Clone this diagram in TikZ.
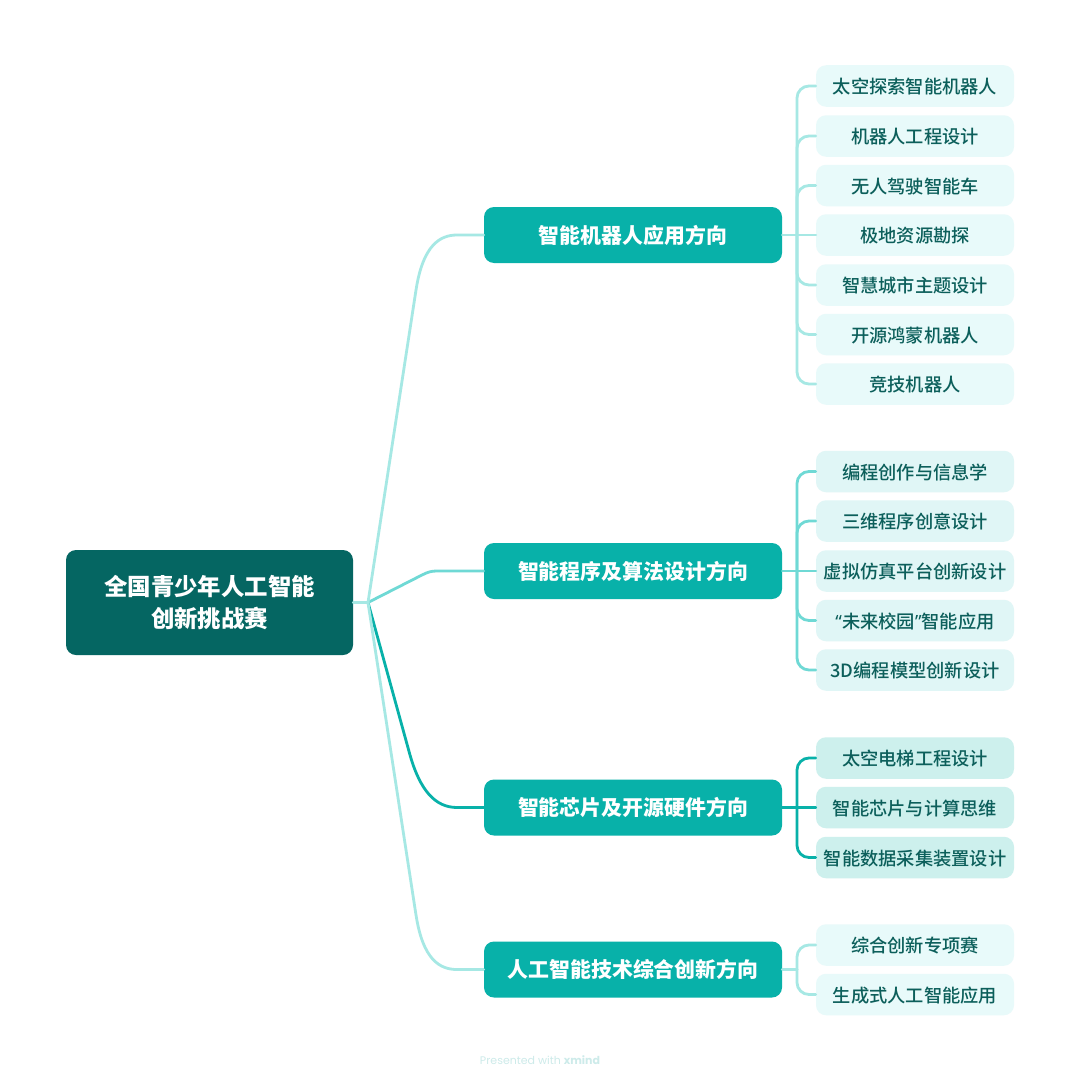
\documentclass[tikz,border=0pt]{standalone}
\usepackage{fontspec}
\setmainfont{Noto Sans CJK SC}
\newfontfamily\leaffont{Noto Sans CJK SC Medium}
\newfontfamily\latinf{Noto Sans}
\newfontfamily\markfont{Poppins}
\definecolor{rootc}{HTML}{056662}
\definecolor{branchc}{HTML}{08B1A9}
\definecolor{lineA}{HTML}{A6E8E4}
\definecolor{lineB}{HTML}{6FD9D5}
\definecolor{lineC}{HTML}{08B1A9}
\definecolor{leafA}{HTML}{E8FAFA}
\definecolor{leafB}{HTML}{E0F6F6}
\definecolor{leafC}{HTML}{CDF0ED}
\definecolor{leaftext}{HTML}{0C5F5B}
\definecolor{markc}{HTML}{CDEBEA}
\tikzset{
  rootbox/.style={fill=rootc,rounded corners=10,minimum width=287,minimum height=105,inner sep=0,text=white,align=center,font=\fontsize{23.4}{32}\selectfont\bfseries},
  branchbox/.style={fill=branchc,rounded corners=10,minimum width=298,minimum height=56,inner sep=0,text=white,font=\fontsize{20.9}{25}\selectfont\bfseries},
  leafbox/.style={rounded corners=10,minimum width=198,minimum height=41.5,inner sep=0,text=leaftext,text height=17.8,text depth=2,font=\leaffont\fontsize{18.25}{22}\selectfont},
  leafa/.style={leafbox,fill=leafA},
  leafb/.style={leafbox,fill=leafB},
  leafc/.style={leafbox,fill=leafC},
  link/.style={line width=2.8,line cap=round},
  elbow/.style={link,rounded corners=12},
}
\begin{document}
\begin{tikzpicture}[x=1pt,y=-1pt]
\useasboundingbox (0,0) rectangle (1080,1081);
\fill[white] (0,0) rectangle (1080,1081);
\node[rootbox] (root) at (209.5,602.5) {\raisebox{-1pt}{全国青少年人工智能}\\\raisebox{-1pt}{创新挑战赛}};
\node[branchbox] (b1) at (633,235) {智能机器人应用方向};
\node[branchbox] (b2) at (633,571) {智能程序及算法设计方向};
\node[branchbox] (b3) at (633,807.5) {智能芯片及开源硬件方向};
\node[branchbox] (b4) at (633,969.5) {人工智能技术综合创新方向};
\node[leafa] (a1) at (915,86) {太空探索智能机器人};
\node[leafa] (a2) at (915,136) {机器人工程设计};
\node[leafa] (a3) at (915,185.5) {无人驾驶智能车};
\node[leafa] (a4) at (915,235) {极地资源勘探};
\node[leafa] (a5) at (915,285) {智慧城市主题设计};
\node[leafa] (a6) at (915,334.5) {开源鸿蒙机器人};
\node[leafa] (a7) at (915,384) {竞技机器人};
\node[leafb] (c1) at (915,471.5) {编程创作与信息学};
\node[leafb] (c2) at (915,521) {三维程序创意设计};
\node[leafb] (c3) at (915,571) {虚拟仿真平台创新设计};
\node[leafb] (c4) at (915,620.5) {{\latinf “}未来校园{\latinf ”}智能应用};
\node[leafb] (c5) at (915,670) {3D编程模型创新设计};
\node[leafc] (d1) at (915,758) {太空电梯工程设计};
\node[leafc] (d2) at (915,807.5) {智能芯片与计算思维};
\node[leafc] (d3) at (915,857.5) {智能数据采集装置设计};
\node[leafa] (e1) at (915,945) {综合创新专项赛};
\node[leafa] (e2) at (915,994.5) {生成式人工智能应用};
\node[text=markc,font=\markfont\fontsize{11}{14}\selectfont] (mark) at (540,1060) {Presented with \textbf{xmind}};
\coordinate (j) at (368,602.5);
\coordinate (ja) at (797,235);
\coordinate (jb) at (797,571);
\coordinate (jc) at (797,807.5);
\coordinate (je) at (797,969.5);
% trunk
\draw[link,lineC] (j) -- (410,755) .. controls (420,790) and (435,807.5) .. (457,807.5) -- (b3.west);
\draw[link,lineB] (j) -- (422,575) .. controls (428,572) and (431,571) .. (437,571) -- (b2.west);
\draw[link,lineA] (j) -- (416,290) .. controls (423,245) and (440,235) .. (457,235) -- (b1.west);
\draw[link,lineA] (j) -- (416,915) .. controls (423,960) and (440,969.5) .. (457,969.5) -- (b4.west);
\draw[link,lineA] (root.east) -- (j);
% group 1
\draw[link,lineA] (b1.east) -- (a4.west);
\foreach \n in {a1,a2,a3,a5,a6,a7} \draw[elbow,lineA] (ja) |- (\n.west);
% group 2
\draw[link,lineB] (b2.east) -- (c3.west);
\foreach \n in {c1,c2,c4,c5} \draw[elbow,lineB] (jb) |- (\n.west);
% group 3
\draw[link,lineC] (b3.east) -- (d2.west);
\foreach \n in {d1,d3} \draw[elbow,lineC] (jc) |- (\n.west);
% group 4
\draw[link,lineA] (b4.east) -- (je);
\foreach \n in {e1,e2} \draw[elbow,lineA] (je) |- (\n.west);
\end{tikzpicture}
\end{document}
